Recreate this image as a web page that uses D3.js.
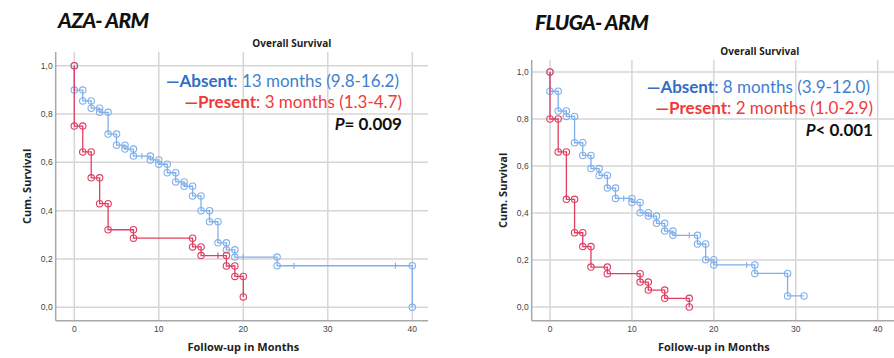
<!DOCTYPE html>
<html>
<head>
<meta charset="utf-8">
<script src="https://cdn.jsdelivr.net/npm/d3@7"></script>
<style>
  body { margin: 0; background: #fff; }
  svg { display: block; }
</style>
</head>
<body>
<div id="chart"></div>
<script>
// axis ticks shared by both panels
const xTicks = [0, 10, 20, 30, 40];
const yTicks = [0, 0.2, 0.4, 0.6, 0.8, 1.0];

// AZA arm - event times (months) and survival after each drop
const azaAbsentTimes = [0, 1, 2, 3, 4, 5, 6, 7, 9, 10, 11, 12, 13, 14, 15, 16, 17, 18, 19, 24, 40];
const azaAbsentSurv = [0.899, 0.854, 0.824, 0.807, 0.717, 0.671, 0.655, 0.626, 0.610, 0.592, 0.557, 0.519, 0.501, 0.461, 0.400, 0.354, 0.267, 0.238, 0.208, 0.172, 0.0];
const azaAbsentCensor = [8, 20, 26, 38];
const azaPresentTimes = [0, 1, 2, 3, 4, 7, 14, 15, 18, 19, 20];
const azaPresentSurv = [0.75, 0.643, 0.536, 0.429, 0.321, 0.286, 0.25, 0.214, 0.171, 0.128, 0.043];
const azaPresentCensor = [17];

// FLUGA arm
const flugaAbsentTimes = [0, 1, 2, 3, 4, 5, 6, 7, 8, 10, 11, 12, 13, 14, 15, 18, 19, 20, 25, 29];
const flugaAbsentSurv = [0.918, 0.834, 0.811, 0.699, 0.645, 0.589, 0.560, 0.506, 0.462, 0.445, 0.401, 0.387, 0.356, 0.323, 0.305, 0.268, 0.201, 0.179, 0.143, 0.047];
const flugaAbsentCensor = [9, 17, 24];
const flugaAbsentEnd = 31;
const flugaPresentTimes = [0, 1, 2, 3, 4, 5, 7, 11, 12, 14, 17];
const flugaPresentSurv = [0.80, 0.66, 0.458, 0.316, 0.257, 0.170, 0.142, 0.106, 0.072, 0.037, 0.0];
const flugaPresentCensor = [];

const blue = "#80b0ec";
const red = "#de3f63";

const svg = d3.select("#chart").append("svg")
    .attr("width", 894)
    .attr("height", 358);

// build the KM step vertices from drop times
function stepPoints(times, surv, endTime) {
    let pts = [[0, 1]];
    let prev = 1;
    times.forEach((t, i) => {
        if (!(t === 0 && pts.length === 1)) pts.push([t, prev]);
        pts.push([t, surv[i]]);
        prev = surv[i];
    });
    if (endTime != null) pts.push([endTime, prev]);
    return pts;
}

function survAt(times, surv, t) {
    let s = 1;
    times.forEach((tt, i) => { if (tt <= t) s = surv[i]; });
    return s;
}

function drawPanel(p) {
    const x = d3.scaleLinear().domain([0, 40]).range(p.xRange);
    const y = d3.scaleLinear().domain([0, 1]).range(p.yRange);
    const g = svg.append("g");

    // grid
    g.selectAll(".gx").data(xTicks).enter().append("line")
        .attr("x1", d => x(d)).attr("x2", d => x(d))
        .attr("y1", p.top).attr("y2", p.bottom)
        .attr("stroke", "#d6d6d6").attr("stroke-width", 1.5);
    g.selectAll(".gy").data(yTicks).enter().append("line")
        .attr("x1", p.left).attr("x2", p.right)
        .attr("y1", d => y(d)).attr("y2", d => y(d))
        .attr("stroke", "#d6d6d6").attr("stroke-width", 1.5);

    // axis lines
    g.append("line").attr("x1", p.left).attr("x2", p.left).attr("y1", p.top).attr("y2", p.bottom)
        .attr("stroke", "#a8a8a8").attr("stroke-width", 1.5);
    g.append("line").attr("x1", p.left).attr("x2", p.right).attr("y1", p.bottom).attr("y2", p.bottom)
        .attr("stroke", "#a8a8a8").attr("stroke-width", 1.5);

    // tick labels
    g.selectAll(".tx").data(xTicks).enter().append("text")
        .attr("x", d => x(d)).attr("y", p.bottom + 11)
        .attr("text-anchor", "middle")
        .style("font", "8.5px 'Liberation Sans', sans-serif").style("fill", "#444")
        .text(d => d);
    g.selectAll(".ty").data(yTicks).enter().append("text")
        .attr("x", p.left - 3).attr("y", d => y(d) + 3)
        .attr("text-anchor", "end")
        .style("font", "8.5px 'Liberation Sans', sans-serif").style("fill", "#444")
        .text(d => d3.format(".1f")(d).replace(".", ","));

    // axis titles
    g.append("text").attr("x", (p.left + p.right) / 2 + p.titleShift).attr("y", p.top - 5)
        .attr("text-anchor", "middle")
        .style("font", "bold 10px 'Open Sans', sans-serif").style("fill", "#222")
        .text("Overall Survival");
    g.append("text").attr("x", x(20)).attr("y", p.bottom + 30)
        .attr("text-anchor", "middle")
        .style("font", "bold 11px 'Open Sans', sans-serif").style("fill", "#222")
        .text("Follow-up in Months");
    g.append("text")
        .attr("transform", `translate(${p.left - 25},${(p.top + p.bottom) / 2}) rotate(-90)`)
        .attr("text-anchor", "middle")
        .style("font", "bold 11px 'Open Sans', sans-serif").style("fill", "#222")
        .text("Cum. Survival");

    // big arm title
    g.append("text").attr("x", p.titleX).attr("y", p.titleY)
        .style("font", "italic 900 21px Lato, sans-serif").style("fill", "#111")
        .style("letter-spacing", "-0.6px")
        .text(p.title);

    // curves
    p.series.forEach(s => {
        const pts = stepPoints(s.times, s.surv, s.end);
        g.append("path")
            .datum(pts)
            .attr("d", d3.line().x(d => x(d[0])).y(d => y(d[1])))
            .attr("fill", "none").attr("stroke", s.color).attr("stroke-width", 1.3);
        g.selectAll(null).data(pts).enter().append("circle")
            .attr("cx", d => x(d[0])).attr("cy", d => y(d[1]))
            .attr("r", 3.2)
            .attr("fill", "none").attr("stroke", s.color).attr("stroke-width", 1.1);
        g.selectAll(null).data(s.censor).enter().append("line")
            .attr("x1", d => x(d)).attr("x2", d => x(d))
            .attr("y1", d => y(survAt(s.times, s.surv, d)) - 3)
            .attr("y2", d => y(survAt(s.times, s.surv, d)) + 3)
            .attr("stroke", s.color).attr("stroke-width", 1.1);
    });

    // legend text
    const leg = g.append("g").style("font-family", "Lato, sans-serif").style("font-size", "17px");
    const l1 = leg.append("text").attr("x", p.legX).attr("y", p.legY[0]).attr("text-anchor", "end").style("fill", "#3f7fd0");
    l1.append("tspan").style("font-weight", "bold").style("fill", "#2f6fc4").text("\u2014Absent");
    l1.append("tspan").text(p.absentText);
    const l2 = leg.append("text").attr("x", p.legX + 3).attr("y", p.legY[1]).attr("text-anchor", "end").style("fill", "#f03a3a");
    l2.append("tspan").style("font-weight", "bold").text("\u2014Present");
    l2.append("tspan").text(p.presentText);
    const l3 = leg.append("text").attr("x", p.legX + 3).attr("y", p.legY[2]).attr("text-anchor", "end").style("fill", "#111");
    l3.append("tspan").style("font-style", "italic").style("font-weight", "bold").text("P");
    l3.append("tspan").style("font-weight", "bold").text(p.pText);
}

drawPanel({
    xRange: [74.3, 412.3], yRange: [307.3, 65.7],
    left: 55.7, right: 428, top: 52, bottom: 320.7,
    titleShift: 50,
    title: "AZA- ARM", titleX: 58, titleY: 28,
    legX: 399, legY: [87, 108, 129.5],
    absentText: ": 13 months (9.8-16.2)",
    presentText: ": 3 months (1.3-4.7)",
    pText: "= 0.009",
    series: [
        { times: azaAbsentTimes, surv: azaAbsentSurv, censor: azaAbsentCensor, color: blue },
        { times: azaPresentTimes, surv: azaPresentSurv, censor: azaPresentCensor, color: red }
    ]
});

drawPanel({
    xRange: [550, 877.7], yRange: [307, 72],
    left: 531.7, right: 894, top: 60, bottom: 320.7,
    titleShift: 47,
    title: "FLUGA- ARM", titleX: 535, titleY: 30,
    legX: 870, legY: [92.5, 114, 135.5],
    absentText: ": 8 months (3.9-12.0)",
    presentText: ": 2 months (1.0-2.9)",
    pText: "< 0.001",
    series: [
        { times: flugaAbsentTimes, surv: flugaAbsentSurv, censor: flugaAbsentCensor, end: flugaAbsentEnd, color: blue },
        { times: flugaPresentTimes, surv: flugaPresentSurv, censor: flugaPresentCensor, color: red }
    ]
});
</script>
</body>
</html>
